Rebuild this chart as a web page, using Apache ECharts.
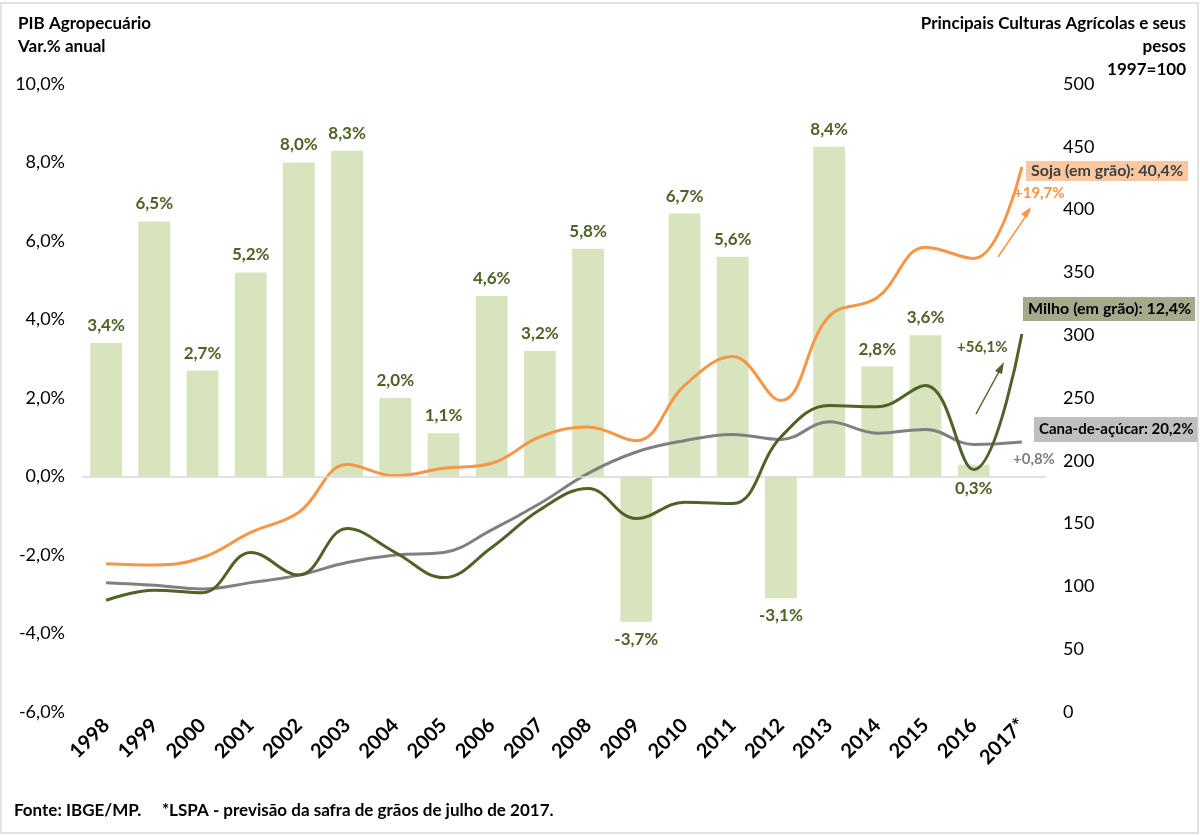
<!DOCTYPE html>
<html><head><meta charset="utf-8">
<script src="https://cdn.jsdelivr.net/npm/echarts@6/dist/echarts.min.js"></script>
<style>html,body{margin:0;padding:0;background:#fff}#c{width:1200px;height:835px}</style>
</head><body><div id="c"></div>
<script>
const categories = ['1998','1999','2000','2001','2002','2003','2004','2005','2006','2007','2008','2009','2010','2011','2012','2013','2014','2015','2016','2017*'];
const pibAgro = [3.4,6.5,2.7,5.2,8.0,8.3,2.0,1.1,4.6,3.2,5.8,-3.7,6.7,5.6,-3.1,8.4,2.8,3.6,0.3,null];
const soja = [118,117,123,143,159,197,188,194,198,219,227,216,260,283,248,315,330,370,361,434];
const milho = [89,97,95,127,109,146,127,107,131,161,178,154,167,166,219,244,243,260,193,301];
const cana = [103,101,98,103,109,119,125,127,145,166,190,207,216,221,217,231,222,225,213,215];
const leftTicks = [-6,-4,-2,0,2,4,6,8,10];
const rightTicks = [0,50,100,150,200,250,300,350,400,450,500];

const FONT = 'Lato';
const GREEN = '#4f6228';
const ORANGE = '#f79646';
const GRAY = '#808080';
const fmtPct = v => v.toFixed(1).replace('.', ',') + '%';

const barData = pibAgro.map((v, i) => (i === 18 ? {value: v, label: {position: 'bottom', distance: 4}} : v));

const chart = echarts.init(document.getElementById('c'));
chart.setOption({
  animation: false,
  textStyle: {fontFamily: FONT},
  grid: {left: 82, right: 154, top: 84, bottom: 123},
  xAxis: {
    type: 'category', data: categories,
    axisLine: {show: false}, axisTick: {show: false},
    axisLabel: {rotate: 45, margin: 10, fontSize: 20, fontWeight: 'bold', color: '#000', fontFamily: FONT, interval: 0}
  },
  yAxis: [
    {type: 'value', min: leftTicks[0], max: leftTicks[leftTicks.length-1], interval: 2,
     splitLine: {show: false}, axisLine: {show: false}, axisTick: {show: false},
     axisLabel: {margin: 17, fontSize: 18, color: '#000', fontFamily: FONT, formatter: v => fmtPct(v)}},
    {type: 'value', min: rightTicks[0], max: rightTicks[rightTicks.length-1], interval: 50,
     splitLine: {show: false}, axisLine: {show: false}, axisTick: {show: false},
     axisLabel: {margin: 17, fontSize: 18, color: '#000', fontFamily: FONT}}
  ],
  series: [
    {type: 'bar', data: barData, yAxisIndex: 0, barCategoryGap: '34%',
     itemStyle: {color: '#d7e4bd'},
     label: {show: true, position: 'outside', distance: 9, fontSize: 17, fontWeight: 'bold', color: GREEN, fontFamily: FONT,
       formatter: p => p.value == null ? '' : fmtPct(p.value)},
     labelLayout: {hideOverlap: false},
     markLine: {silent: true, symbol: 'none', label: {show: false},
       lineStyle: {color: '#d9d9d9', type: 'solid', width: 1.5}, data: [{yAxis: 0}]},
     z: 1},
    {type: 'line', name: 'Cana', data: cana, yAxisIndex: 1, smooth: 0.4, showSymbol: false,
     lineStyle: {color: GRAY, width: 3}, z: 3},
    {type: 'line', name: 'Soja', data: soja, yAxisIndex: 1, smooth: 0.4, showSymbol: false,
     lineStyle: {color: ORANGE, width: 3}, z: 4},
    {type: 'line', name: 'Milho', data: milho, yAxisIndex: 1, smooth: 0.4, showSymbol: false,
     lineStyle: {color: GREEN, width: 3}, z: 5}
  ],
  graphic: [
    {type: 'rect', shape: {x: 1, y: 3, width: 1197, height: 830}, style: {fill: 'none', stroke: '#d9d9d9', lineWidth: 1.5}, silent: true},
    {type: 'text', x: 18, y: 12, style: {text: 'PIB Agropecuário\nVar.% anual', fontFamily: FONT, fontWeight: 'bold', fontSize: 17, fill: '#000', lineHeight: 23}},
    {type: 'text', x: 1186, y: 12, style: {text: 'Principais Culturas Agrícolas e seus\npesos\n1997=100', fontFamily: FONT, fontWeight: 'bold', fontSize: 17, fill: '#000', lineHeight: 23, align: 'right', verticalAlign: 'top'}},
    {type: 'text', x: 14, y: 802, style: {text: 'Fonte: IBGE/MP.     *LSPA - previsão da safra de grãos de julho de 2017.', fontFamily: FONT, fontWeight: 'bold', fontSize: 17, fill: '#000'}},
    // Soja annotation
    {type: 'text', x: 1026, y: 161, style: {text: 'Soja (em grão): 40,4%', fontFamily: FONT, fontWeight: 'bold', fontSize: 16, fill: '#404040', backgroundColor: '#fac8a0', padding: [2, 5, 2, 5]}},
    {type: 'text', x: 1014, y: 186, style: {text: '+19,7%', fontFamily: FONT, fontWeight: 'bold', fontSize: 15, fill: ORANGE}},
    {type: 'line', shape: {x1: 998, y1: 257, x2: 1030, y2: 210}, style: {stroke: ORANGE, lineWidth: 1.5}},
    {type: 'polygon', shape: {points: [[1031, 207], [1021, 214], [1027, 218]]}, style: {fill: ORANGE}},
    // Milho annotation
    {type: 'text', x: 1023, y: 297, style: {text: 'Milho (em grão): 12,4%', fontFamily: FONT, fontWeight: 'bold', fontSize: 16, fill: '#000', backgroundColor: '#a4ab8c', padding: [4, 4, 4, 5]}},
    {type: 'text', x: 957, y: 340, style: {text: '+56,1%', fontFamily: FONT, fontWeight: 'bold', fontSize: 15, fill: GREEN}},
    {type: 'line', shape: {x1: 976, y1: 414, x2: 1002, y2: 366}, style: {stroke: GREEN, lineWidth: 1.5}},
    {type: 'polygon', shape: {points: [[1004, 362], [995, 371], [1002, 374]]}, style: {fill: GREEN}},
    // Cana annotation
    {type: 'text', x: 1034, y: 417, style: {text: 'Cana-de-açúcar: 20,2%', fontFamily: FONT, fontWeight: 'bold', fontSize: 15, fill: '#000', backgroundColor: '#bfbfbf', padding: [5, 4, 5, 5]}},
    {type: 'text', x: 1013, y: 452, style: {text: '+0,8%', fontFamily: FONT, fontWeight: 'bold', fontSize: 15, fill: GRAY}}
  ]
});
</script></body></html>
